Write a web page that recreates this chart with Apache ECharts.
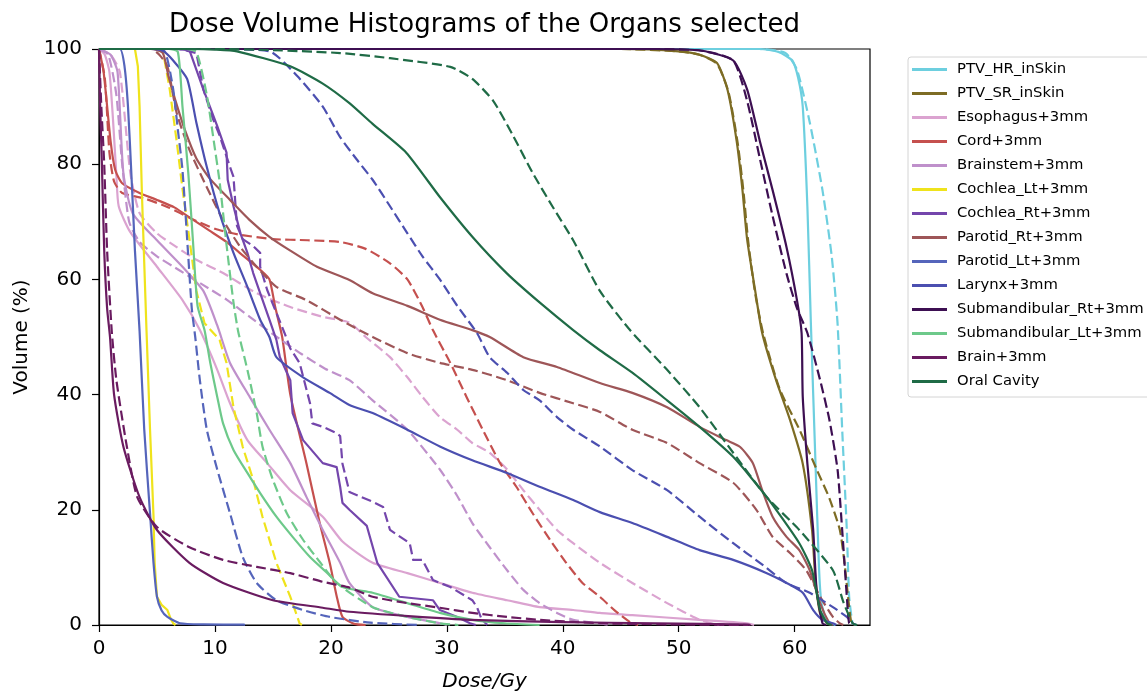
<!DOCTYPE html>
<html>
<head>
<meta charset="utf-8">
<title>Dose Volume Histograms</title>
<script src="https://cdn.jsdelivr.net/npm/echarts@6/dist/echarts.min.js"></script>
<style>
  html, body { margin: 0; padding: 0; background: #fff; }
  #chart { width: 1147px; height: 693px; }
</style>
</head>
<body>
<div id="chart"></div>
<script>
// Organ names, in legend order
const organs = [
  'PTV_HR_inSkin', 'PTV_SR_inSkin', 'Esophagus+3mm', 'Cord+3mm', 'Brainstem+3mm',
  'Cochlea_Lt+3mm', 'Cochlea_Rt+3mm', 'Parotid_Rt+3mm', 'Parotid_Lt+3mm', 'Larynx+3mm',
  'Submandibular_Rt+3mm', 'Submandibular_Lt+3mm', 'Brain+3mm', 'Oral Cavity'
];

const organColors = [
  '#6dcfdf', '#7d6c24', '#dba3d0', '#c5504e', '#bf90cb',
  '#efe31c', '#7446ac', '#9e5658', '#5565bb', '#4b4fb0',
  '#3d0f52', '#6dc98a', '#6a1b60', '#1f6b46'
];

// Small-volume structures have stepped curves and are drawn without smoothing
const steppedOrgans = ['Cochlea_Lt+3mm', 'Cochlea_Rt+3mm'];

// Cumulative DVH curves: [dose (Gy), volume (%)]; "A" = solid plan, "B" = dashed plan
const ptvHrA = [[0,100],[57,100],[58.6,99.5],[59.8,98],[60.3,95],[60.7,90],[61.1,72.6],[61.4,52.4],[61.8,28],[62.1,10],[62.3,4],[62.7,1],[63.2,0.2],[63.5,0]];
const ptvHrB = [[0,100],[57,100],[59.2,99.3],[60.2,96.4],[61.3,87.3],[62.4,75.5],[63.2,64],[63.7,52.4],[64.1,34],[64.5,16.5],[64.7,5],[65.0,0.3],[65.3,0]];

const ptvSrA = [[0,100],[45,100],[50,99.6],[51.8,99],[53.3,97.6],[54.2,93],[55.0,84],[55.5,75.5],[55.9,67],[56.6,58],[57.2,50.7],[58.4,42.5],[59.6,35.6],[60.7,28],[61.5,16.5],[61.8,7.8],[62.2,2],[62.8,0.3],[63.2,0]];
const ptvSrB = [[0,100],[45,100],[50,99.6],[51.8,99],[53.3,97.4],[54.3,92.5],[55.1,83.5],[55.6,75],[56.0,66.5],[56.6,57.5],[57.3,50.5],[58.7,41],[60.4,34],[61.9,27],[63.0,22],[63.9,16.5],[64.3,10.8],[64.6,5],[64.9,0.3],[65.2,0]];

const esophagusA = [[0,100],[0.5,99],[0.9,96],[1.2,88],[1.5,78],[1.7,72.7],[2.7,68.2],[5,62.2],[7.2,56.4],[8.7,51.2],[10.2,44.3],[11.3,38.5],[12.8,32.1],[14.5,28.1],[16.5,23.4],[19.3,18.8],[21,14.5],[23.6,10.8],[26.6,9],[29.4,7.3],[32.2,5.6],[35.2,4.3],[38,3.1],[40.9,2.6],[43.2,2.1],[46,1.7],[51.8,0.9],[55.9,0.3],[56.5,0]];
const esophagusB = [[0,100],[1.0,99],[1.8,96],[2.7,78.5],[3.5,71.5],[5,68],[6.7,65.6],[8.4,63.4],[10.7,61.1],[13.6,57.6],[16.5,55.2],[19.3,53.5],[21.6,52.5],[23,50],[25.1,46.5],[26.6,43],[27.9,39.6],[29.4,36.1],[30.9,33.9],[32.2,31.6],[33.7,29.9],[35.2,27],[36.6,23.4],[38,20],[39.5,16.5],[40.9,14.2],[43.2,10.8],[46,7.3],[49,3.8],[51.8,0.9],[53,0.2],[53.5,0]];

const cordA = [[0,100],[0.4,96],[1,84],[1.4,79],[2,76.7],[3.5,75],[5,73.8],[6.5,72.5],[8,70.5],[9.5,68.5],[11,66.5],[12.5,64],[14,61.5],[14.7,60],[15.2,55.2],[15.8,50],[16.5,40],[17.9,28],[19,18],[19.9,10.8],[20.5,5],[21,1.4],[22,0.2],[23,0]];
const cordB = [[0,100],[0.5,95],[0.9,82],[1.3,77],[2,75],[4,74],[6,72.5],[8,70.5],[10,68.8],[12,67.8],[15,67],[18,66.8],[20.8,66.5],[23,65.3],[25.1,62.8],[26.6,60],[27.9,55.2],[28.8,51.2],[30.3,45.5],[31.7,39.6],[33.1,33.9],[34.6,28.1],[36,24],[37.4,19.4],[38.9,14.8],[40.3,10.8],[41.7,7.3],[43.2,4.9],[44.5,2.5],[45.8,0.5],[46.5,0]];

const brainstemA = [[0,100],[1.0,99],[1.6,96],[2.1,78.5],[2.9,71.5],[5,66.8],[7.2,62.2],[9.0,58],[10.2,52],[11.3,45.5],[13.0,39.6],[14.7,33.9],[16.5,28.1],[17.9,22.2],[19.3,16.5],[20.8,10.8],[21.6,7.3],[23.6,3.1],[26.6,1.4],[29.4,0.3],[30,0]];
const brainstemB = [[0,100],[0.8,99],[1.5,92],[2,80],[2.6,70],[3.5,66.5],[5,64],[7,61.5],[9,59],[11,56.5],[13,53.5],[15,50.5],[17.5,47],[19.5,44.5],[21.6,42.5],[23.6,39],[26.6,33.9],[29.4,27],[30.9,22.4],[32.2,17.7],[33.7,13.5],[35.2,9.5],[36.6,6.1],[38,3.8],[39.5,2.1],[40.9,0.9],[43.2,0.3],[44,0]];

const cochleaLtA = [[0,100],[3.1,100],[3.35,97],[3.5,90],[3.7,75],[4.1,51],[4.4,34],[4.7,19],[4.8,10.8],[5.0,4.9],[5.4,3.5],[5.9,2.6],[6.2,1],[6.4,0.3],[6.6,0]];
const cochleaLtB = [[0,100],[4.8,100],[5.5,99.8],[6.1,93],[6.7,84],[7.2,75.7],[7.8,67],[8.4,58],[9.1,52.4],[10.4,49.5],[11.0,45.5],[11.6,37.8],[12.4,30.9],[13.3,25.2],[14.1,18.8],[15.3,10.8],[16.5,4.9],[17.3,0.3],[17.5,0]];

const cochleaRtA = [[0,100],[6.5,100],[7.8,99.8],[9.0,93],[10.2,86.6],[11.0,82],[11.1,77.3],[11.6,72.7],[12.2,68],[12.8,64.6],[13.3,61.1],[13.9,57.6],[14.7,53],[15.3,49.5],[15.6,46.5],[16.5,42.5],[16.7,36.8],[17.6,32.1],[19.3,28.1],[20.5,27.4],[20.8,24],[21.0,21.2],[21.6,20],[23.1,17.2],[24.0,10.8],[25.9,4.9],[28.8,4.3],[29.4,2.6],[30.9,1.4],[32,0.3],[32.5,0]];
const cochleaRtB = [[0,100],[7,100],[8.4,99.3],[9.0,93],[9.8,88],[10.4,85],[11.3,79.5],[11.6,77.8],[11.9,69.3],[12.4,67],[13.3,65.8],[13.9,64.6],[13.9,62.2],[14.5,58.2],[16.0,50.7],[16.5,48],[17.3,45.5],[18.2,38.5],[18.4,35],[19.3,34.4],[20.5,33.3],[20.8,32.8],[21.0,28],[21.6,23.1],[23.6,21.4],[24.5,20.5],[25.1,16.5],[26.8,14.2],[27.1,11.3],[27.9,11.3],[28.8,7.8],[30.3,6.6],[32.2,4.3],[32.6,3.1],[33,1],[33.5,0]];

const parotidRtA = [[0,100],[4.5,100],[5.5,99.3],[6.0,95.2],[6.6,91],[7.4,86],[8.4,81],[9.6,77.4],[11.3,73.8],[13.0,70.3],[14.7,67.4],[16.5,65],[18.8,62.2],[21.6,59.9],[23.6,57.6],[26.6,55.4],[29.4,53],[32.2,51.2],[33.7,50],[36.6,46.5],[39.5,44.8],[43.2,42],[46.0,40.3],[49.0,37.8],[51.8,34.4],[54.1,32.1],[55.3,30.9],[56.4,28.1],[57.2,23.4],[58.1,18.8],[59.3,15.3],[60.4,13],[61.3,9.5],[62.2,3.8],[63.0,0.3],[63.3,0]];
const parotidRtB = [[0,100],[4.5,100],[5.2,99],[5.9,97],[6.7,88.9],[7.8,82.5],[9.3,76],[10.7,70.3],[12.2,65.6],[13.6,62.2],[15.3,58.7],[17.9,56.4],[20.8,53],[23.6,50],[26.6,47.2],[29.4,45.5],[32.2,44.3],[35.2,42.5],[38.0,40.3],[40.9,38.5],[43.2,37],[46.0,33.9],[49.0,31.6],[51.8,28.1],[54.7,24.7],[56.7,20],[58.1,15.3],[59.6,12.5],[61.0,9.5],[62.2,4.9],[63.3,1.4],[63.9,0.3],[64.2,0]];

const parotidLtA = [[0,100],[1.8,100],[2.2,97],[2.5,90],[2.8,78],[3.1,65],[3.5,51],[3.9,34],[4.4,19.4],[4.7,10.8],[5.0,4.9],[5.4,2.5],[5.9,1.4],[7,0.3],[9,0.1],[12.5,0.05],[12.6,0]];
const parotidLtB = [[0,100],[4.8,100],[5.7,99.5],[6.4,93],[6.8,86],[7.2,79],[7.7,64],[8.0,55],[8.3,50],[8.7,42.5],[9.3,33.9],[10.2,27],[11.3,19.4],[12.4,11.8],[13.6,7.3],[15.3,4.3],[17.6,2.6],[19.9,1.4],[23.4,0.4],[27.7,0]];

const larynxA = [[0,100],[4.5,100],[5.5,99.7],[6.4,98],[7.6,94.8],[8.4,87.2],[9.3,79.5],[10.4,71.5],[11.6,64.6],[12.8,58.7],[13.9,53],[14.7,50],[15.3,46.5],[17.6,43],[19.9,40.3],[21.6,38.2],[23.6,36.8],[26.6,33.9],[29.4,31],[32.2,28.6],[35.2,26.4],[38.0,24],[40.9,21.7],[43.2,19.6],[46.0,17.7],[49.0,15.3],[51.8,13],[54.7,11.3],[57.6,9],[59.3,7.3],[60.7,5.6],[61.6,2.6],[62.4,0.9],[63.3,0.3],[63.6,0]];
const larynxB = [[0,100],[10,100],[14.7,99.6],[17.1,95.3],[19.3,90],[20.8,84.7],[22.2,80.9],[23.6,77.3],[25.1,72.7],[26.6,68],[27.9,64],[29.4,60],[30.9,55.4],[32.6,50.7],[33.7,46.5],[35.2,43.8],[36.6,40.8],[38.0,39],[39.5,36.1],[40.9,33.9],[43.2,31],[46.0,26.9],[49.0,23.4],[51.8,18.8],[54.7,14.2],[57.0,10.8],[59.3,7.3],[61.3,5.6],[63.3,3.1],[64.5,1.4],[65.0,0.3],[65.3,0]];

const subRtA = [[0,100],[48,100],[52,99.7],[54.7,98],[55.9,93],[57.0,84],[58.1,75.5],[59.3,65.6],[60.2,56.4],[60.6,50.7],[60.7,39.6],[61.1,28],[61.6,16.5],[61.9,6],[62.4,0.3],[62.7,0]];
const subRtB = [[0,100],[48,100],[52,99.7],[54.7,98],[55.9,91],[57.0,81],[58.1,71],[59.3,61],[60.2,55],[61.1,50.7],[62.2,42.5],[63.0,35.6],[63.7,27],[64.1,16.5],[64.5,5],[64.7,0.3],[65,0]];

const subLtA = [[0,100],[6,100],[6.8,99.5],[7.2,90],[7.7,78.5],[8.1,66.8],[8.5,55.4],[9.1,51.2],[9.6,45.5],[10.2,39.6],[10.7,35],[11.6,30.4],[12.8,26.4],[13.9,22.9],[15.3,18.8],[16.7,15.3],[18.2,11.8],[19.7,9],[21.0,6.6],[23.6,5.6],[26.6,3.8],[29.4,2.1],[32.2,0.9],[35,0.3],[38,0]];
const subLtB = [[0,100],[7.5,100],[8.4,99.5],[9.3,92],[9.9,84],[10.4,77],[11.0,66],[11.6,56],[12.0,51],[12.6,46],[13.0,42.5],[13.6,36.8],[14.1,31],[15.0,25.2],[16.2,19.4],[17.6,14.8],[19.1,10.8],[20.5,7.3],[23.6,3.1],[26.6,1.4],[29.4,0.3],[31,0]];

const brainA = [[0,100],[0.1,90],[0.25,80],[0.45,65],[0.7,55],[0.95,50],[1.3,40],[2.1,31],[3.5,22.2],[5,16.5],[7.8,10.8],[10.7,7.3],[15,4.3],[19.3,3],[21.6,2.3],[27,1.5],[32,0.9],[40,0.5],[48,0.3],[56,0.05],[56.2,0]];
const brainB = [[0,100],[0.2,90],[0.45,80],[0.7,65],[1.1,51],[1.5,42.5],[2.4,31],[3.3,22.2],[5,17],[7.8,13.5],[10.7,11.3],[13.6,10.1],[16.5,9],[19.3,7.5],[21.6,6.5],[23.6,4.9],[26.6,3.8],[29.4,3],[32.2,2.1],[35.2,1.4],[38,0.9],[43.2,0.3],[50,0.1],[56,0]];

const oralA = [[0,100],[8,100],[10,99.9],[11.9,99.6],[16.5,97],[19.3,94],[21.6,90.6],[23.6,87],[26.5,82],[29.4,74.3],[32.2,67.4],[35.2,61],[38.0,56],[40.9,51.2],[43.2,47.7],[46.0,43.8],[49.0,39],[51.8,34.4],[54.7,29.2],[57.6,22.2],[60.4,14.2],[61.5,9.5],[62.2,2.6],[62.8,0.3],[63.2,0]];
const oralB = [[0,100],[10,100],[15,99.8],[20.8,99.3],[25.1,98.4],[30.3,96.9],[32.2,94.8],[34.0,91],[35.7,85],[37.4,78.5],[39.1,72.7],[40.9,66.8],[43.2,58],[45.8,51.2],[49.0,44.3],[51.8,37.8],[54.7,29.9],[57.6,22.2],[60.4,16.5],[63.3,9.5],[64.2,4],[65.0,0.3],[65.4,0]];

const curvesA = [ptvHrA, ptvSrA, esophagusA, cordA, brainstemA, cochleaLtA, cochleaRtA, parotidRtA, parotidLtA, larynxA, subRtA, subLtA, brainA, oralA];
const curvesB = [ptvHrB, ptvSrB, esophagusB, cordB, brainstemB, cochleaLtB, cochleaRtB, parotidRtB, parotidLtB, larynxB, subRtB, subLtB, brainB, oralB];

// Axis ticks
const doseTicks = [0, 10, 20, 30, 40, 50, 60];
const volumeTicks = [0, 20, 40, 60, 80, 100];

const FONT = 'DejaVu Sans';

function lineSeries(name, color, data, dashed) {
  const stepped = steppedOrgans.indexOf(name) >= 0;
  return {
    type: 'line',
    name: name,
    data: data,
    color: color,
    showSymbol: false,
    symbol: 'none',
    clip: false,
    silent: true,
    smooth: stepped ? false : 0.2,
    lineStyle: { width: 2.2, color: color, type: dashed ? [10, 4.5] : 'solid', cap: 'butt', join: 'round' },
    emphasis: { disabled: true }
  };
}

const series = [];
organs.forEach((name, i) => {
  series.push(lineSeries(name, organColors[i], curvesA[i], false));
  series.push(lineSeries(name, organColors[i], curvesB[i], true));
});

const chart = echarts.init(document.getElementById('chart'), null, { renderer: 'canvas' });
chart.setOption({
  animation: false,
  backgroundColor: '#ffffff',
  grid: {
    left: 99, right: 277, top: 49, bottom: 68,
    show: true, borderColor: '#000', borderWidth: 1.2, backgroundColor: 'transparent'
  },
  xAxis: {
    type: 'value',
    min: 0, max: 66.5,
    splitLine: { show: false },
    axisLine: { show: true, onZero: false, lineStyle: { color: '#000', width: 1.2 } },
    axisTick: { show: true, inside: false, length: 7, customValues: doseTicks, lineStyle: { color: '#000', width: 1.2 } },
    axisLabel: { customValues: doseTicks, margin: 14, fontFamily: FONT, fontSize: 20, color: '#000' }
  },
  yAxis: {
    type: 'value',
    min: 0, max: 100, interval: 20,
    splitLine: { show: false },
    axisLine: { show: true, onZero: false, lineStyle: { color: '#000', width: 1.2 } },
    axisTick: { show: true, inside: false, length: 7, customValues: volumeTicks, lineStyle: { color: '#000', width: 1.2 } },
    axisLabel: { customValues: volumeTicks, margin: 17, fontFamily: FONT, fontSize: 20, color: '#000' }
  },
  legend: {
    orient: 'vertical',
    left: 908, top: 57,
    padding: [5, 12, 8, 4],
    itemWidth: 35, itemHeight: 3,
    itemGap: 9,
    icon: 'rect',
    data: organs,
    backgroundColor: '#fff',
    borderColor: '#d4d4d4', borderWidth: 1, borderRadius: 3,
    selectedMode: false,
    textStyle: { fontFamily: FONT, fontSize: 14.8, color: '#000', lineHeight: 15, padding: [0, 0, 0, 5] }
  },
  graphic: [
    {
      type: 'text', silent: true,
      style: { x: 484.5, y: 25, text: 'Dose Volume Histograms of the Organs selected', fill: '#000',
        font: '26px "DejaVu Sans"', textAlign: 'center', textVerticalAlign: 'middle' }
    },
    {
      type: 'text', silent: true,
      style: { x: 484.5, y: 682, text: 'Dose/Gy', fill: '#000',
        font: 'italic 20px "DejaVu Sans"', textAlign: 'center', textVerticalAlign: 'middle' }
    },
    {
      type: 'text', silent: true, x: 22, y: 337, rotation: Math.PI / 2,
      style: { x: 0, y: 0, text: 'Volume (%)', fill: '#000',
        font: '20px "DejaVu Sans"', textAlign: 'center', textVerticalAlign: 'middle' }
    }
  ],
  series: series
});
</script>
</body>
</html>
